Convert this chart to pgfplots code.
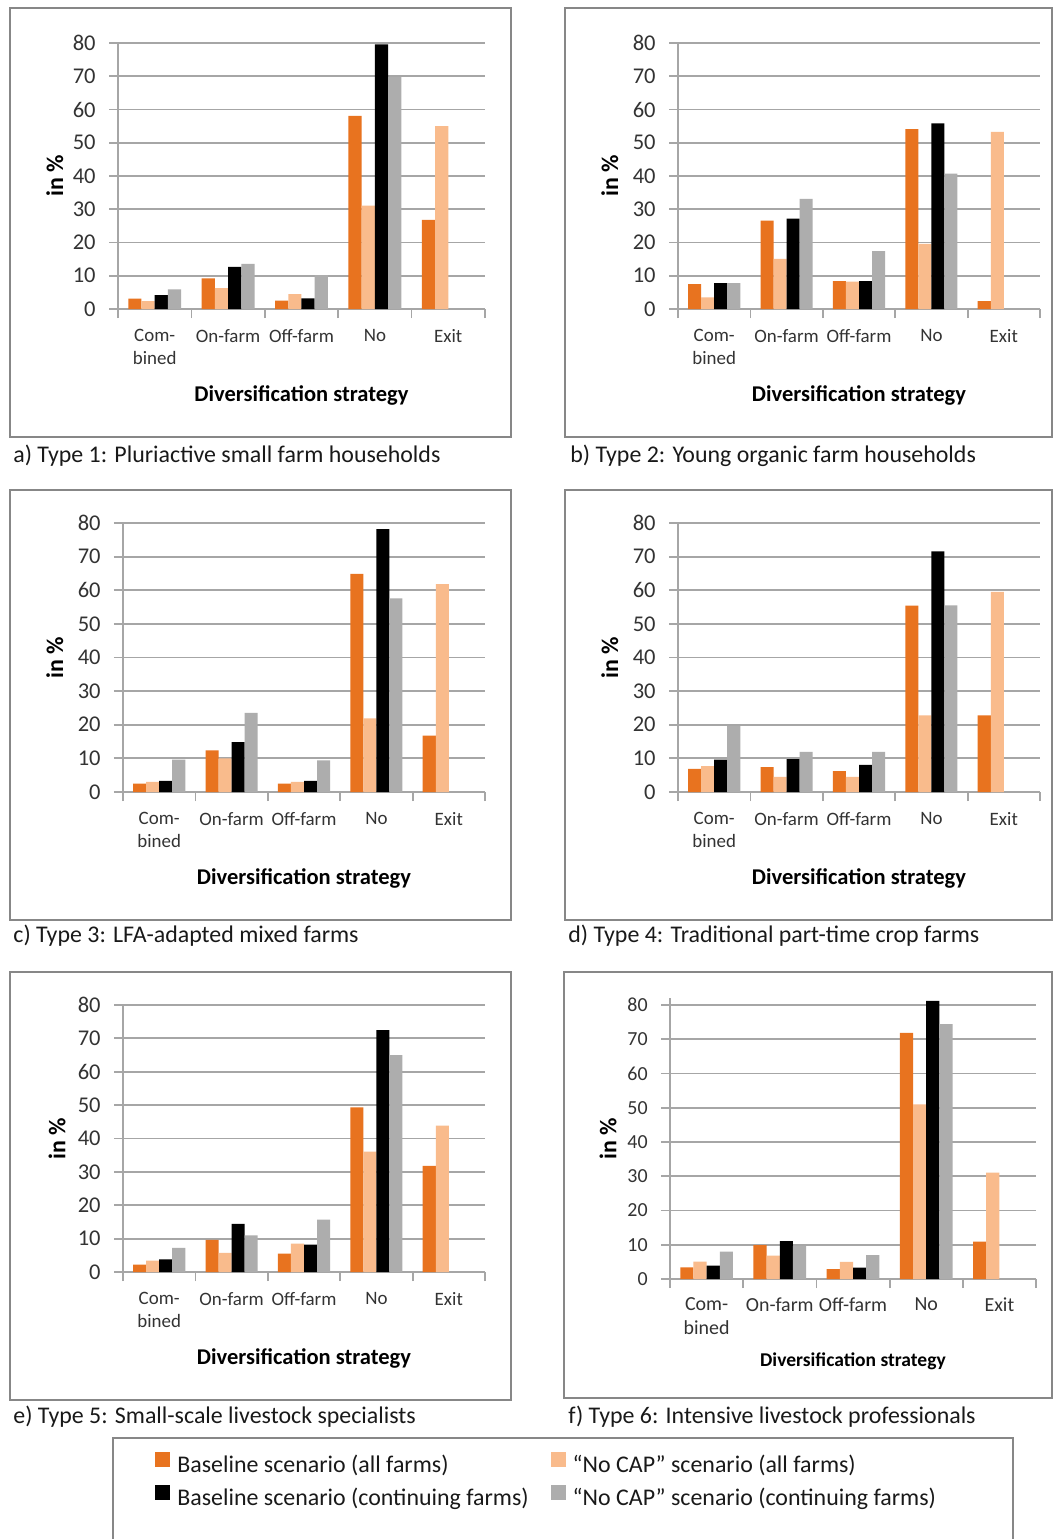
\documentclass[border=0pt]{standalone}
\usepackage{fontspec}
\setmainfont{Carlito}
\usepackage{pgfplots}
\pgfplotsset{compat=1.18}
\definecolor{cOr}{HTML}{E8731F}
\definecolor{cLo}{HTML}{F9BB8C}
\definecolor{cBk}{HTML}{000000}
\definecolor{cGy}{HTML}{ADADAD}
\definecolor{cGrid}{HTML}{A6A6A6}
\definecolor{cFrame}{HTML}{878787}
\definecolor{cTxt}{HTML}{333333}

\pgfplotsset{
  panel/.style={
    scale only axis, anchor=south west,
    ybar=0pt, bar width=0.18,
    xmin=-0.5, xmax=4.5, ymin=0, ymax=80,
    enlargelimits=false,
    axis x line*=bottom, axis y line*=left,
    axis line style={draw=cGrid, line width=0.9bp, -},
    tick align=outside, major tick length=4.5bp,
    tick style={draw=cGrid, line width=0.9bp},
    ymajorgrids, grid style={draw=cGrid, line width=0.9bp},
    ytick={0,10,...,80},
    xtick={-0.5,0.5,1.5,2.5,3.5,4.5}, xticklabels={},
    extra x ticks={0,1,2,3,4},
    extra x tick labels={{Com-\\bined},{On-farm},{Off-farm},{No},{Exit}},
    extra x tick style={major tick length=0pt},
    x tick label style={font=\fontsize{9.5}{11.5}\selectfont, text=cTxt, align=center, anchor=north, inner sep=0pt, yshift=-10bp},
    y tick label style={font=\fontsize{11.3}{13}\selectfont, text=cTxt, anchor=east, inner sep=0pt, xshift=-6.5bp},
    /pgf/number format/assume math mode=true,
    xlabel={Diversification strategy}, ylabel={in \%},
    xlabel style={font=\bfseries\fontsize{11.3}{13}\selectfont, text=black, at={(axis description cs:0.5,0)}, anchor=center, yshift=-43bp},
    ylabel style={font=\bfseries\fontsize{12}{14}\selectfont, text=black, anchor=center},
    legend image code/.code={\fill[##1] (0bp,-0.5bp) rectangle (7.5bp,7bp);},
  },
  s1/.style={fill=cOr, draw=none},
  s2/.style={fill=cLo, draw=none},
  s3/.style={fill=cBk, draw=none},
  s4/.style={fill=cGy, draw=none},
}

\begin{document}
\begin{tikzpicture}
\path[use as bounding box] (0,0) rectangle (526.5bp,-769.5bp);
\begin{scope}[x=0.5bp,y=-0.5bp]
\fill[white] (0,0) rectangle (1053,1539);
\draw[cFrame, line width=0.8bp] (10,8) rectangle (511,437);
\draw[cFrame, line width=0.8bp] (565,8) rectangle (1052,437);
\draw[cFrame, line width=0.8bp] (10,490) rectangle (511,920);
\draw[cFrame, line width=0.8bp] (565,490) rectangle (1052,920);
\draw[cFrame, line width=0.8bp] (10,972) rectangle (511,1400);
\draw[cFrame, line width=0.8bp] (564,972) rectangle (1052,1398);
\draw[cFrame, line width=0.8bp] (113,1438) rectangle (1013,1600);
\begin{scope}[every node/.style={anchor=west, inner sep=0pt, font=\fontsize{12}{14}\selectfont, text=black!90}]
\node at (13,456) {a) Type 1: Pluriactive small farm households};
\node at (570,456) {b) Type 2: Young organic farm households};
\node at (13,936) {c) Type 3: LFA-adapted mixed farms};
\node at (568,936) {d) Type 4: Traditional part-time crop farms};
\node at (13,1417) {e) Type 5: Small-scale livestock specialists};
\node at (568,1417) {f) Type 6: Intensive livestock professionals};
\end{scope}
\end{scope}

% a) Type 1
\begin{axis}[panel, at={(59bp,-154.5bp)}, width=183.5bp, height=133bp,
  ylabel style={at={(axis description cs:-0.172,0.5)}}]
\addplot[s1] coordinates {(0,3.1)(1,9.2)(2,2.5)(3,58.1)(4,26.8)};
\addplot[s2] coordinates {(0,2.4)(1,6.3)(2,4.5)(3,31.1)(4,55.0)};
\addplot[s3] coordinates {(0,4.2)(1,12.7)(2,3.2)(3,79.6)};
\addplot[s4] coordinates {(0,5.9)(1,13.6)(2,10.2)(3,69.8)};
\end{axis}

% b) Type 2
\begin{axis}[panel, at={(339bp,-154.5bp)}, width=181bp, height=133bp,
  ylabel style={at={(axis description cs:-0.188,0.5)}}]
\addplot[s1] coordinates {(0,7.5)(1,26.6)(2,8.4)(3,54.1)(4,2.4)};
\addplot[s2] coordinates {(0,3.5)(1,15.1)(2,8.2)(3,19.6)(4,53.3)};
\addplot[s3] coordinates {(0,7.8)(1,27.2)(2,8.4)(3,55.8)};
\addplot[s4] coordinates {(0,7.8)(1,33.1)(2,17.4)(3,40.7)};
\end{axis}

% c) Type 3
\begin{axis}[panel, at={(61.5bp,-396bp)}, width=181bp, height=134.5bp,
  ylabel style={at={(axis description cs:-0.188,0.5)}}]
\addplot[s1] coordinates {(0,2.5)(1,12.4)(2,2.5)(3,64.9)(4,16.8)};
\addplot[s2] coordinates {(0,3.0)(1,10.0)(2,3.0)(3,21.9)(4,61.8)};
\addplot[s3] coordinates {(0,3.3)(1,14.8)(2,3.3)(3,78.2)};
\addplot[s4] coordinates {(0,9.6)(1,23.5)(2,9.4)(3,57.6)};
\end{axis}

% d) Type 4
\begin{axis}[panel, at={(339bp,-396bp)}, width=181bp, height=134.5bp,
  ylabel style={at={(axis description cs:-0.188,0.5)}}]
\addplot[s1] coordinates {(0,6.9)(1,7.4)(2,6.2)(3,55.4)(4,22.8)};
\addplot[s2] coordinates {(0,7.7)(1,4.5)(2,4.5)(3,22.8)(4,59.5)};
\addplot[s3] coordinates {(0,9.6)(1,9.8)(2,8.1)(3,71.6)};
\addplot[s4] coordinates {(0,19.7)(1,11.9)(2,11.9)(3,55.5)};
\end{axis}

% e) Type 5 (carries the legend)
\begin{axis}[panel, at={(61.5bp,-636bp)}, width=181bp, height=133.5bp,
  ylabel style={at={(axis description cs:-0.182,0.5)}},
  legend columns=2,
  legend cell align=left,
  legend style={at={(axis description cs:0.0884,-0.6741)}, anchor=north west,
    draw=none, fill=none, inner sep=0pt,
    font=\fontsize{12}{14}\selectfont, text=black!90, row sep=4bp,
    nodes={inner sep=0pt, text height=8.5bp, text depth=2.5bp},
    /tikz/every odd column/.append style={column sep=3.5bp},
    /tikz/every even column/.append style={column sep=11bp}},
  ]
\addplot[s1] coordinates {(0,2.2)(1,9.6)(2,5.5)(3,49.3)(4,31.8)};
\addplot[s2] coordinates {(0,3.4)(1,5.7)(2,8.5)(3,36.1)(4,43.9)};
\addplot[s3] coordinates {(0,3.8)(1,14.4)(2,8.2)(3,72.5)};
\addplot[s4] coordinates {(0,7.2)(1,11.0)(2,15.7)(3,65.0)};
\legend{Baseline scenario (all farms), “No CAP” scenario (all farms), Baseline scenario (continuing farms), “No CAP” scenario (continuing farms)}
\end{axis}

% f) Type 6
\begin{axis}[panel, at={(335bp,-639.5bp)}, width=183bp, height=140.4bp, ymax=82,
  ylabel style={at={(axis description cs:-0.169,0.5)}},
  y tick label style={font=\fontsize{10}{12}\selectfont},
  x tick label style={font=\fontsize{10}{12}\selectfont, yshift=1bp},
  xlabel style={font=\bfseries\fontsize{9.8}{12}\selectfont, yshift=2bp}]
\addplot[s1] coordinates {(0,3.4)(1,9.9)(2,2.9)(3,71.9)(4,10.9)};
\addplot[s2] coordinates {(0,5.1)(1,6.8)(2,5.0)(3,51.0)(4,31.1)};
\addplot[s3] coordinates {(0,3.9)(1,11.1)(2,3.3)(3,81.2)};
\addplot[s4] coordinates {(0,8.0)(1,9.6)(2,7.0)(3,74.4)};
\end{axis}
\end{tikzpicture}
\end{document}
